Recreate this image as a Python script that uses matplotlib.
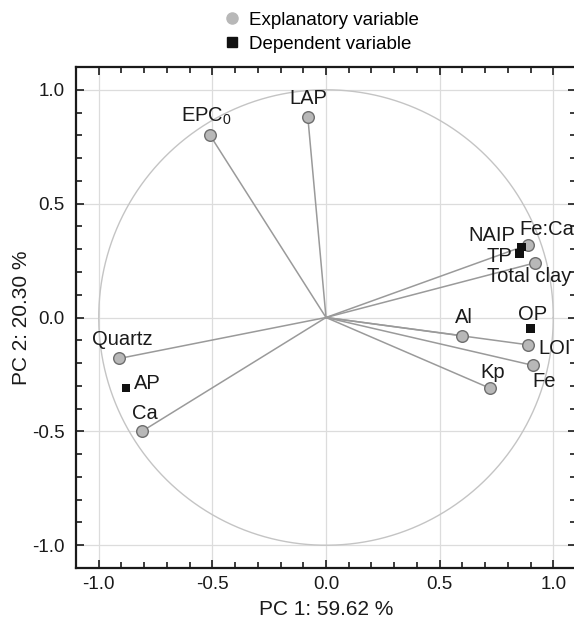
import numpy as np
import matplotlib.pyplot as plt
from matplotlib.lines import Line2D
from matplotlib.ticker import MultipleLocator

plt.rcParams['font.family'] = ['Liberation Sans', 'DejaVu Sans']
plt.rcParams['mathtext.fontset'] = 'custom'
plt.rcParams['mathtext.rm'] = 'Liberation Sans'
plt.rcParams['mathtext.it'] = 'Liberation Sans'

# explanatory variables (loadings on PC1, PC2)
expl_names = [r'EPC$_\mathrm{0}$', 'LAP', 'Fe:Ca', 'Total clay', 'Al', 'LOI', 'Fe', 'Kp', 'Quartz', 'Ca']
expl_pc1 = [-0.51, -0.08, 0.89, 0.92, 0.60, 0.89, 0.91, 0.72, -0.91, -0.81]
expl_pc2 = [0.80, 0.88, 0.32, 0.24, -0.08, -0.12, -0.21, -0.31, -0.18, -0.50]

# dependent variables (projected, no vectors)
dep_names = ['NAIP', 'TP', 'OP', 'AP']
dep_pc1 = [0.86, 0.85, 0.90, -0.88]
dep_pc2 = [0.31, 0.28, -0.05, -0.31]

# label placement: (dx px, dy px, ha)
label_off = {
    r'EPC$_\mathrm{0}$': (-4, 19, 'center'), 'LAP': (0, 19, 'center'),
    'Fe:Ca': (-9, 15, 'left'), 'Total clay': (-48, -14, 'left'),
    'Al': (2, 18, 'center'), 'LOI': (10, -4, 'left'), 'Fe': (0, -16, 'left'),
    'Kp': (3, 16, 'center'), 'Quartz': (3, 19, 'center'), 'Ca': (3, 18, 'center'),
    'NAIP': (-6, 11, 'right'), 'TP': (-7, -3, 'right'), 'OP': (2, 14, 'center'),
    'AP': (8, 5, 'left'),
}

dpi = 100
fig = plt.figure(figsize=(5.74, 6.29), dpi=dpi)
ax = fig.add_axes([76 / 574, 1 - 568 / 629, 500 / 574, 501 / 629])

th = np.linspace(0, 2 * np.pi, 400)
ax.plot(np.cos(th), np.sin(th), color='#c4c4c4', lw=1.0, zorder=1)

for x, y in zip(expl_pc1, expl_pc2):
    ax.plot([0, x], [0, y], color='#9a9a9a', lw=1.1, zorder=2)

ax.scatter(expl_pc1, expl_pc2, s=70, c='#b8b8b8', edgecolors='#6e6e6e', linewidths=1.0, zorder=4)
ax.scatter(dep_pc1, dep_pc2, s=40, marker='s', c='#111111', edgecolors='none', zorder=4)

k = 72 / dpi
for names, xs, ys in [(expl_names, expl_pc1, expl_pc2), (dep_names, dep_pc1, dep_pc2)]:
    for n, x, y in zip(names, xs, ys):
        dx, dy, ha = label_off[n]
        ax.annotate(n, (x, y), xytext=(dx * k, dy * k), textcoords='offset points',
                    ha=ha, va='center', fontsize=14.5, color='#1a1a1a', zorder=5,
                    annotation_clip=False)

ax.set_xlim(-1.1, 1.1)
ax.set_ylim(-1.1, 1.1)
ax.xaxis.set_major_locator(MultipleLocator(0.5))
ax.yaxis.set_major_locator(MultipleLocator(0.5))
ax.xaxis.set_minor_locator(MultipleLocator(0.1))
ax.yaxis.set_minor_locator(MultipleLocator(0.1))
ax.tick_params(which='both', direction='in', top=True, right=True, width=1.2, colors='#1a1a1a')
ax.tick_params(which='major', length=6, labelsize=13.5)
ax.tick_params(axis='x', which='major', pad=6)
ax.tick_params(axis='y', which='major', pad=8)
ax.tick_params(which='minor', length=4)
ax.grid(True, which='major', color='#dcdcdc', lw=0.9)
ax.set_axisbelow(True)
for s in ax.spines.values():
    s.set_linewidth(1.6)
    s.set_color('#1a1a1a')
ax.xaxis.set_major_formatter(lambda v, p: f'{v:.1f}')
ax.yaxis.set_major_formatter(lambda v, p: f'{v:.1f}')

ax.set_xlabel('PC 1: 59.62 %', fontsize=15, labelpad=5, color='#1a1a1a')
ax.set_ylabel('PC 2: 20.30 %', fontsize=15, labelpad=1, color='#1a1a1a')

handles = [
    Line2D([], [], marker='o', ls='none', markersize=8, markerfacecolor='#b8b8b8', markeredgecolor='#b8b8b8'),
    Line2D([], [], marker='s', ls='none', markersize=7, markerfacecolor='#111111', markeredgecolor='#111111'),
]
fig.legend(handles, ['Explanatory variable', 'Dependent variable'], loc='upper left',
           bbox_to_anchor=(204 / 574, 1.008), frameon=False, fontsize=13.5,
           handletextpad=0.3, labelspacing=0.35, handlelength=1.2)

fig.savefig('out.png', dpi=dpi)
